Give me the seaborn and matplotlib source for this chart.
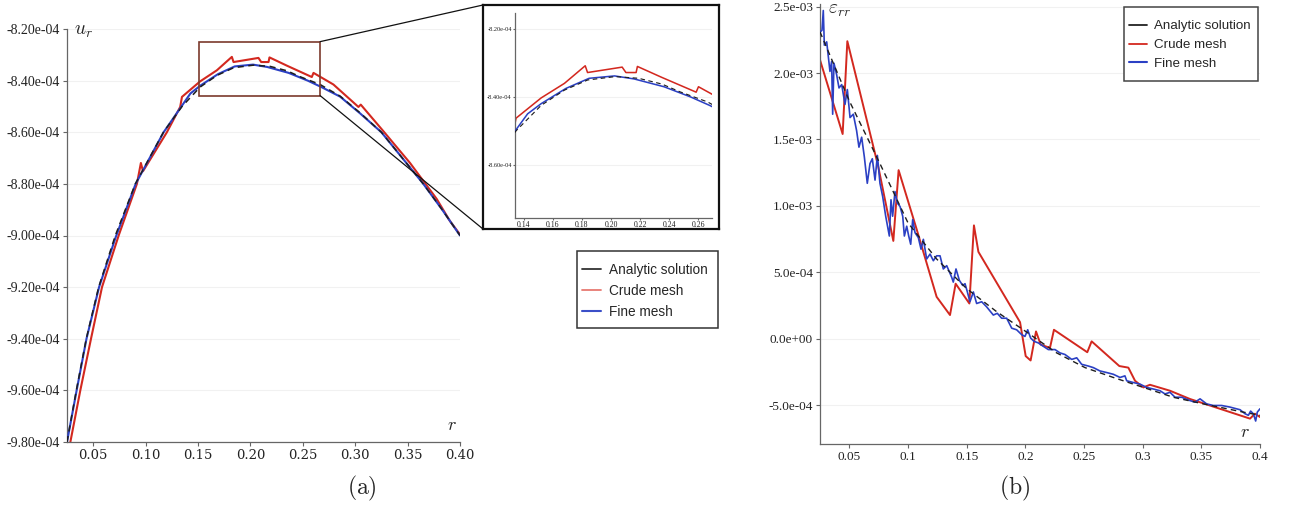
import numpy as np
import matplotlib
matplotlib.use("Agg")
import matplotlib.pyplot as plt
import seaborn as sns
from matplotlib.lines import Line2D
from matplotlib.patches import Rectangle, ConnectionPatch
from matplotlib.ticker import FuncFormatter

# ---------------- data (values in units of 1e-4) ----------------
E4 = 1e-4

# panel (a): radial displacement u_r
r_a_analytic = [0.025, 0.0339, 0.0434, 0.0552, 0.0711, 0.0902, 0.117, 0.1348, 0.152, 0.168,
                0.184, 0.203, 0.219, 0.235, 0.2475, 0.2665, 0.2856, 0.3047, 0.325, 0.345,
                0.365, 0.383, 0.40]
u_a_analytic = [-9.80, -9.60, -9.40, -9.20, -9.00, -8.80, -8.60, -8.50, -8.425, -8.38,
                -8.35, -8.34, -8.345, -8.362, -8.385, -8.415, -8.46, -8.525, -8.60, -8.70,
                -8.80, -8.90, -9.00]

r_a_fine = [0.025, 0.0342, 0.0436, 0.0556, 0.0716, 0.0905, 0.1172, 0.1347, 0.1427, 0.152,
            0.169, 0.185, 0.2025, 0.216, 0.2365, 0.2547, 0.2678, 0.2856, 0.3047, 0.325,
            0.345, 0.365, 0.383, 0.40]
u_a_fine = [-9.80, -9.60, -9.40, -9.20, -9.005, -8.80, -8.60, -8.497, -8.45, -8.42,
            -8.375, -8.345, -8.338, -8.347, -8.37, -8.40, -8.425, -8.462, -8.527, -8.60,
            -8.70, -8.80, -8.90, -9.00]

r_a_crude = [0.0282, 0.0377, 0.0479, 0.0584, 0.0743, 0.0917, 0.0955, 0.0975, 0.1203, 0.133,
             0.1347, 0.152, 0.168, 0.1823, 0.1839, 0.2077, 0.2103, 0.2173, 0.2182, 0.2348,
             0.2586, 0.2602, 0.2792, 0.3031, 0.3053, 0.3269, 0.3523, 0.3777, 0.3904, 0.40]
u_a_crude = [-9.80, -9.60, -9.40, -9.20, -9.00, -8.80, -8.719, -8.751, -8.60, -8.502,
             -8.463, -8.403, -8.36, -8.308, -8.328, -8.312, -8.328, -8.328, -8.31, -8.342,
             -8.386, -8.37, -8.415, -8.502, -8.493, -8.596, -8.719, -8.858, -8.944, -8.996]

# panel (b): radial strain eps_rr
r_b_analytic = [0.025, 0.05, 0.0761, 0.1, 0.1244, 0.15, 0.1756, 0.2003, 0.2267, 0.2509,
                0.275, 0.3006, 0.3261, 0.3517, 0.3858, 0.40]
e_b_analytic = [23.1, 17.9, 13.18, 8.72, 6.0, 3.77, 2.03, 0.545, -1.07, -2.18,
                -2.92, -3.67, -4.41, -4.91, -5.53, -5.77]

r_b_crude = [0.025, 0.0443, 0.0483, 0.0747, 0.0875, 0.092, 0.1074, 0.1244, 0.1358, 0.1406,
             0.1523, 0.1562, 0.16, 0.1955, 0.2003, 0.2045, 0.2091, 0.2131, 0.221, 0.2244,
             0.2528, 0.2565, 0.2801, 0.2878, 0.2935, 0.3006, 0.3062, 0.3233, 0.3403, 0.3915,
             0.3957, 0.40]
e_b_crude = [20.99, 15.41, 22.40, 12.94, 7.36, 12.69, 8.23, 3.15, 1.78, 4.14,
             2.65, 8.53, 6.54, 1.24, -1.31, -1.64, 0.545, -0.45, -0.69, 0.67,
             -1.02, -0.20, -2.06, -2.18, -3.17, -3.67, -3.47, -3.92, -4.54, -6.02,
             -5.65, -5.90]

r_b_fine = [0.025, 0.0267, 0.0278, 0.0287, 0.0307, 0.0335, 0.0349, 0.0358, 0.0369, 0.0392,
            0.0412, 0.0435, 0.0463, 0.0483, 0.0506, 0.0534, 0.0562, 0.0582, 0.0605, 0.0628,
            0.0653, 0.0676, 0.0696, 0.0719, 0.0739, 0.0761, 0.0784, 0.081, 0.0841, 0.0855,
            0.0869, 0.0889, 0.0909, 0.0932, 0.0955, 0.0969, 0.0989, 0.1006, 0.1023, 0.104,
            0.106, 0.1088, 0.1111, 0.1131, 0.1159, 0.1188, 0.1216, 0.1244, 0.1273, 0.1301,
            0.133, 0.1372, 0.1386, 0.1409, 0.1438, 0.1466, 0.1486, 0.1506, 0.1528, 0.1557,
            0.1585, 0.1628, 0.167, 0.1727, 0.1761, 0.1798, 0.1841, 0.1884, 0.1926, 0.1969,
            0.1997, 0.202, 0.2045, 0.2074, 0.2111, 0.2153, 0.2196, 0.2253, 0.2295, 0.2338,
            0.2395, 0.2438, 0.248, 0.2537, 0.258, 0.2636, 0.2693, 0.275, 0.2807, 0.2849,
            0.2864, 0.292, 0.2977, 0.3034, 0.3091, 0.3148, 0.319, 0.3233, 0.3276, 0.3332,
            0.3403, 0.3446, 0.3489, 0.3545, 0.3602, 0.3673, 0.3744, 0.383, 0.3872, 0.3901,
            0.392, 0.3943, 0.3963, 0.3977, 0.40]
e_b_fine = [23.09, 23.22, 24.71, 22.10, 22.35, 20.12, 20.87, 16.90, 20.74, 19.87,
            18.88, 19.13, 17.64, 18.76, 16.65, 16.90, 15.66, 14.42, 15.17, 13.68,
            11.70, 13.18, 13.55, 11.94, 13.80, 11.70, 10.71, 9.22, 7.73, 10.46,
            9.22, 11.08, 10.21, 9.96, 9.22, 7.73, 8.47, 7.73, 7.11, 8.97,
            7.98, 7.61, 6.74, 7.48, 6.00, 6.37, 5.87, 6.24, 6.24, 5.25,
            5.50, 4.63, 4.26, 5.25, 4.39, 4.01, 4.14, 3.52, 2.78, 3.52,
            2.65, 2.78, 2.40, 1.78, 1.91, 1.54, 1.54, 0.79, 0.67, 0.30,
            0.17, 0.67, 0.05, -0.20, -0.32, -0.57, -0.82, -0.82, -1.07, -1.19,
            -1.56, -1.44, -1.93, -2.06, -2.18, -2.43, -2.55, -2.68, -2.92, -2.80,
            -3.17, -3.30, -3.42, -3.67, -3.79, -3.92, -4.16, -4.04, -4.41, -4.41,
            -4.66, -4.78, -4.53, -4.91, -5.03, -5.03, -5.15, -5.35, -5.65, -5.77,
            -5.45, -5.65, -6.20, -5.53, -5.28]

yticks_a = [-9.8, -9.6, -9.4, -9.2, -9.0, -8.8, -8.6, -8.4, -8.2]
xticks_a = [0.05, 0.10, 0.15, 0.20, 0.25, 0.30, 0.35, 0.40]
yticks_in = [-8.6, -8.4, -8.2]
xticks_in = [0.14, 0.16, 0.18, 0.20, 0.22, 0.24, 0.26]
yticks_b = [-5.0, 0.0, 5.0, 10.0, 15.0, 20.0, 25.0]
xticks_b = [0.05, 0.1, 0.15, 0.2, 0.25, 0.3, 0.35, 0.4]
labels = ["Analytic solution", "Crude mesh", "Fine mesh"]

# ---------------- style ----------------
sns.set_theme(style="white")
plt.rcParams["font.family"] = ["Liberation Serif", "DejaVu Serif"]
plt.rcParams["mathtext.fontset"] = "cm"

C_BLACK = "#1e1e1e"
C_RED = "#d3281f"
C_BLUE = "#2b40c4"

W, H = 1292, 509
fig = plt.figure(figsize=(W / 100, H / 100), dpi=100)


def box(x0, y0, x1, y1):
    return [x0 / W, 1 - y1 / H, (x1 - x0) / W, (y1 - y0) / H]


def style_axes(ax, yfs, xfs=None, xfont="Liberation Serif"):
    xfs = yfs if xfs is None else xfs
    for s in ["top", "right"]:
        ax.spines[s].set_visible(False)
    for s in ["left", "bottom"]:
        ax.spines[s].set_color("#666666")
        ax.spines[s].set_linewidth(0.9)
    ax.tick_params(axis="both", which="major", bottom=True, left=True, direction="out",
                   length=3, width=0.8, color="#666666", pad=2, labelcolor="#222222")
    ax.grid(axis="y", color="#f1f1f1", lw=0.8)
    ax.grid(axis="x", visible=False)
    ax.set_axisbelow(True)
    for t in ax.get_yticklabels():
        t.set_fontsize(yfs)
        t.set_family("Liberation Serif")
    for t in ax.get_xticklabels():
        t.set_fontsize(xfs)
        t.set_family(xfont)
    ax.set_xlabel("")
    ax.set_ylabel("")


def draw_a(ax, lw_scale=1.0):
    sns.lineplot(x=np.array(r_a_crude), y=np.array(u_a_crude) * E4, ax=ax, color=C_RED,
                 lw=1.5 * lw_scale, sort=False, estimator=None, zorder=2)
    sns.lineplot(x=np.array(r_a_fine), y=np.array(u_a_fine) * E4, ax=ax, color=C_BLUE,
                 lw=1.5 * lw_scale, sort=False, estimator=None, zorder=3)
    sns.lineplot(x=np.array(r_a_analytic), y=np.array(u_a_analytic) * E4, ax=ax, color=C_BLACK,
                 lw=1.1 * lw_scale, linestyle=(0, (4, 3)), sort=False, estimator=None, zorder=4)


def framed_legend(handles, x0, y0, x1, y1, hx, hy, size, hlen, hpad, lspace, ec):
    fig.add_artist(Rectangle((x0 / W, 1 - y1 / H), (x1 - x0) / W, (y1 - y0) / H,
                             transform=fig.transFigure, fill=True, fc="white",
                             ec=ec, lw=1.1, zorder=5))
    leg = fig.legend(handles, labels, loc="center left", bbox_to_anchor=(hx / W, 1 - hy / H),
                     frameon=False, prop={"family": "Liberation Sans", "size": size},
                     handlelength=hlen, handletextpad=hpad, labelspacing=lspace,
                     borderpad=0, borderaxespad=0)
    leg.set_zorder(6)
    return leg


# ---------------- panel (a) ----------------
axa = fig.add_axes(box(67, 29, 460, 442))
draw_a(axa)
axa.set_xlim(0.025, 0.40)
axa.set_ylim(-9.8e-4, -8.2e-4)
axa.set_yticks([v * E4 for v in yticks_a])
axa.set_xticks(xticks_a)
axa.yaxis.set_major_formatter(FuncFormatter(lambda v, _: f"{v:.2e}"))
axa.xaxis.set_major_formatter(FuncFormatter(lambda v, _: f"{v:.2f}"))
style_axes(axa, 10, 9.5, xfont="DejaVu Serif")
axa.text(0.043, 0.993, r"$u_r$", transform=axa.transAxes, fontsize=14, ha="center", va="center")
axa.text(0.98, 0.039, r"$r$", transform=axa.transAxes, fontsize=13, ha="center", va="center")

# zoom rectangle
axa.add_patch(Rectangle((0.1512, -8.458e-4), 0.1153, 0.209e-4, fill=False,
                        ec="#7b3a2c", lw=1.2, zorder=5))

# inset frame + inset axes
axf = fig.add_axes(box(483, 5, 719, 229))
axf.set_xticks([])
axf.set_yticks([])
for s in axf.spines.values():
    s.set_visible(True)
    s.set_color("#111111")
    s.set_linewidth(1.6)
axf.set_facecolor("white")

axi = fig.add_axes(box(515, 13, 712, 218))
draw_a(axi, lw_scale=0.75)
axi.set_xlim(0.134, 0.2695)
axi.set_ylim(-8.758e-4, -8.152e-4)
axi.set_yticks([v * E4 for v in yticks_in])
axi.set_xticks(xticks_in)
axi.yaxis.set_major_formatter(FuncFormatter(lambda v, _: f"{v:.2e}"))
axi.xaxis.set_major_formatter(FuncFormatter(lambda v, _: f"{v:.2f}"))
style_axes(axi, 4.6, 5.6)
axi.tick_params(length=1.5, pad=0.8)
axi.set_facecolor("none")

for yA, yB in [(-8.249e-4, 5), (-8.458e-4, 229)]:
    con = ConnectionPatch(xyA=(0.2665, yA), coordsA=axa.transData,
                          xyB=(483 / W, 1 - yB / H), coordsB=fig.transFigure,
                          color="#111111", lw=0.9)
    fig.add_artist(con)

handles_a = [Line2D([], [], color="#333333", lw=1.3),
             Line2D([], [], color="#e77a72", lw=1.3),
             Line2D([], [], color="#3b4fc8", lw=1.5)]
framed_legend(handles_a, 577, 251, 718, 328, 581.5, 291, 9.8, 1.4, 0.6, 0.5, "#333333")

# ---------------- panel (b) ----------------
axb = fig.add_axes(box(820, 4, 1260, 444))
sns.lineplot(x=np.array(r_b_crude), y=np.array(e_b_crude) * E4, ax=axb, color=C_RED,
             lw=1.4, sort=False, estimator=None, zorder=2)
sns.lineplot(x=np.array(r_b_fine), y=np.array(e_b_fine) * E4, ax=axb, color=C_BLUE,
             lw=1.2, sort=False, estimator=None, zorder=3)
sns.lineplot(x=np.array(r_b_analytic), y=np.array(e_b_analytic) * E4, ax=axb, color=C_BLACK,
             lw=1.0, linestyle=(0, (4, 3)), sort=False, estimator=None, zorder=4)
axb.set_xlim(0.025, 0.40)
axb.set_ylim(-7.93e-4, 2.52e-3)
axb.set_yticks([v * E4 for v in yticks_b])
axb.set_xticks(xticks_b)
axb.yaxis.set_major_formatter(FuncFormatter(lambda v, _: f"{v:.1e}"))
axb.xaxis.set_major_formatter(FuncFormatter(lambda v, _: f"{v:g}"))
style_axes(axb, 9.5)
axb.text(0.045, 0.985, r"$\varepsilon_{rr}$", transform=axb.transAxes, fontsize=14,
         ha="center", va="center")
axb.text(0.966, 0.026, r"$r$", transform=axb.transAxes, fontsize=13, ha="center", va="center")

handles_b = [Line2D([], [], color="#222222", lw=1.3),
             Line2D([], [], color="#d3281f", lw=1.3),
             Line2D([], [], color="#2b40c4", lw=1.5)]
framed_legend(handles_b, 1124, 7, 1258, 81, 1128.5, 45, 9.6, 1.35, 0.6, 0.48, "#444444")

# captions
fig.text(362 / W, 1 - 488 / H, r"$\mathrm{(a)}$", ha="center", va="center", fontsize=17)
fig.text(1015 / W, 1 - 488 / H, r"$\mathrm{(b)}$", ha="center", va="center", fontsize=17)

fig.savefig("out.png", dpi=100)
